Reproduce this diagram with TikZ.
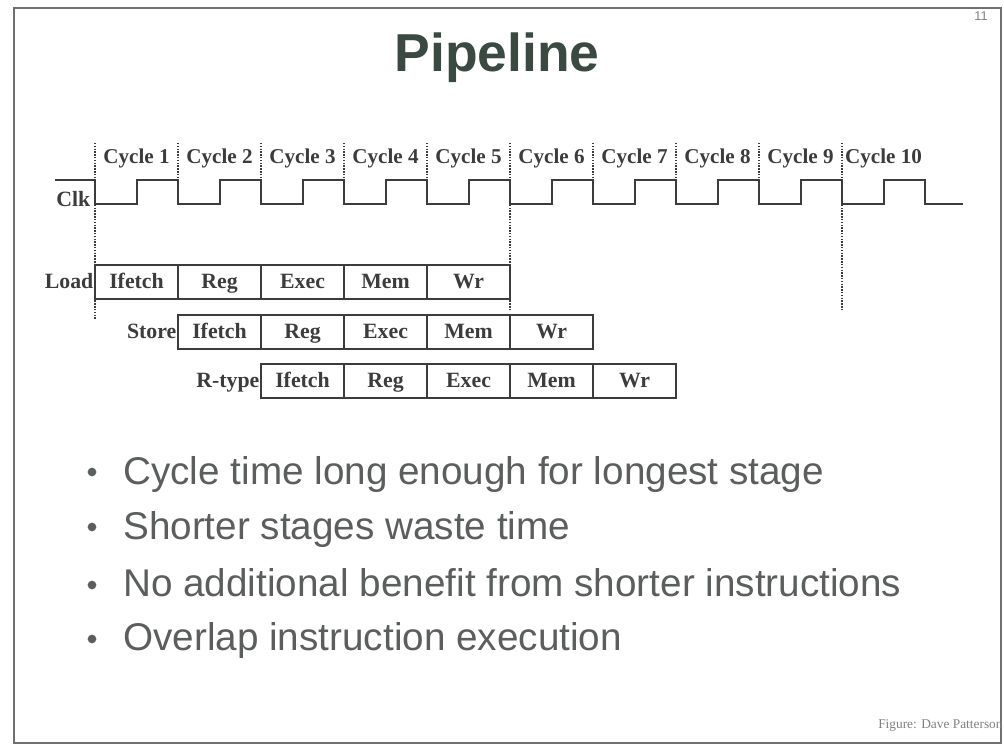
\documentclass[tikz,border=0pt]{standalone}
\usepackage{fontspec}
\setmainfont{Liberation Serif}
\setsansfont{Liberation Sans}
\usetikzlibrary{positioning}
\definecolor{ink}{HTML}{3C3C3C}
\definecolor{titlegreen}{HTML}{3A4A42}
\definecolor{pointgray}{HTML}{5B5E5D}
\definecolor{framegray}{HTML}{707070}

\begin{document}
\begin{tikzpicture}[
    x=0.025cm, y=-0.025cm,
    node distance=0pt,
    stage/.style={draw=ink, line width=1.3pt, outer sep=0pt, minimum width=2.075cm, minimum height=0.85cm, inner sep=0pt, text height=12.5pt, text depth=3pt, text=ink, font=\fontsize{15.5}{18}\selectfont\bfseries},
    instr/.style={text=ink, inner sep=1pt, text height=12.5pt, text depth=3pt, font=\fontsize{15.5}{18}\selectfont\bfseries},
    cyclelabel/.style={text=ink, inner sep=0pt, font=\fontsize{15}{18}\selectfont\bfseries},
    divider/.style={draw=ink, densely dotted, line width=1pt},
    bulletline/.style={anchor=base west, inner sep=0pt, text=pointgray, font=\sffamily\fontsize{27.5}{33}\selectfont}
]
    \useasboundingbox (0,0) rectangle (1004,755);

    % Slide frame
    \draw[framegray, line width=1.3pt] (14,8) rectangle (1001,743);
    \node[text=gray, font=\sffamily\fontsize{9}{10}\selectfont] (pagenum) at (981,16) {11};

    % Title
    \node[text=titlegreen, font=\sffamily\bfseries\fontsize{38}{44}\selectfont] (title) at (497,58) {Pipeline};

    % Cycle labels
    \node[cyclelabel] (c1) at (136.5,158) {Cycle 1};
    \node[cyclelabel] (c2) at (219.5,158) {Cycle 2};
    \node[cyclelabel] (c3) at (302.5,158) {Cycle 3};
    \node[cyclelabel] (c4) at (385.5,158) {Cycle 4};
    \node[cyclelabel] (c5) at (468.5,158) {Cycle 5};
    \node[cyclelabel] (c6) at (551.5,158) {Cycle 6};
    \node[cyclelabel] (c7) at (634.5,158) {Cycle 7};
    \node[cyclelabel] (c8) at (717.5,158) {Cycle 8};
    \node[cyclelabel] (c9) at (800.5,158) {Cycle 9};
    \node[cyclelabel] (c10) at (883.5,158) {Cycle 10};

    % Cycle boundaries
    \draw[divider] (95,143) -- (95,320);
    \draw[divider] (178,143) -- (178,180);
    \draw[divider] (261,143) -- (261,180);
    \draw[divider] (344,143) -- (344,180);
    \draw[divider] (427,143) -- (427,180);
    \draw[divider] (510,143) -- (510,310);
    \draw[divider] (593,143) -- (593,180);
    \draw[divider] (676,143) -- (676,180);
    \draw[divider] (759,143) -- (759,180);
    \draw[divider] (842,143) -- (842,310);

    % Clock
    \node[instr, anchor=east] (clk) at (92,200) {Clk};
    \draw[ink, line width=1.3pt] (55,180) -| (95,204) -| (137,180) -| (178,204) -| (220,180) -| (261,204)
        -| (303,180) -| (344,204) -| (386,180) -| (427,204) -| (469,180) -| (510,204)
        -| (552,180) -| (593,204) -| (635,180) -| (676,204) -| (718,180) -| (759,204)
        -| (801,180) -| (842,204) -| (884,180) -| (925,204) -- (963,204);

    % Load
    \node[stage] (l1) at (136.5,282) {Ifetch};
    \node[stage, right=of l1] (l2) {Reg};
    \node[stage, right=of l2] (l3) {Exec};
    \node[stage, right=of l3] (l4) {Mem};
    \node[stage, right=of l4] (l5) {Wr};
    \node[instr, left=of l1] (load) {Load};

    % Store
    \node[stage] (s1) at (219.5,332) {Ifetch};
    \node[stage, right=of s1] (s2) {Reg};
    \node[stage, right=of s2] (s3) {Exec};
    \node[stage, right=of s3] (s4) {Mem};
    \node[stage, right=of s4] (s5) {Wr};
    \node[instr, left=of s1] (store) {Store};

    % R-type
    \node[stage] (r1) at (302.5,381) {Ifetch};
    \node[stage, right=of r1] (r2) {Reg};
    \node[stage, right=of r2] (r3) {Exec};
    \node[stage, right=of r3] (r4) {Mem};
    \node[stage, right=of r4] (r5) {Wr};
    \node[instr, left=of r1] (rtype) {R-type};

    % Bullets
    \fill[pointgray] (92,472) circle (3.1pt);
    \fill[pointgray] (92,527) circle (3.1pt);
    \fill[pointgray] (92,585) circle (3.1pt);
    \fill[pointgray] (92,639) circle (3.1pt);
    \node[bulletline] (p1) at (123,484) {Cycle time long enough for longest stage};
    \node[bulletline] (p2) at (123,539) {Shorter stages waste time};
    \node[bulletline] (p3) at (123,596) {No additional benefit from shorter instructions};
    \node[bulletline] (p4) at (123,650) {Overlap instruction execution};

    % Credit
    \node[anchor=base west, inner sep=0pt, text=gray, font=\fontsize{9.5}{11}\selectfont] (credit) at (878,728) {Figure: Dave Patterson};
\end{tikzpicture}
\end{document}
